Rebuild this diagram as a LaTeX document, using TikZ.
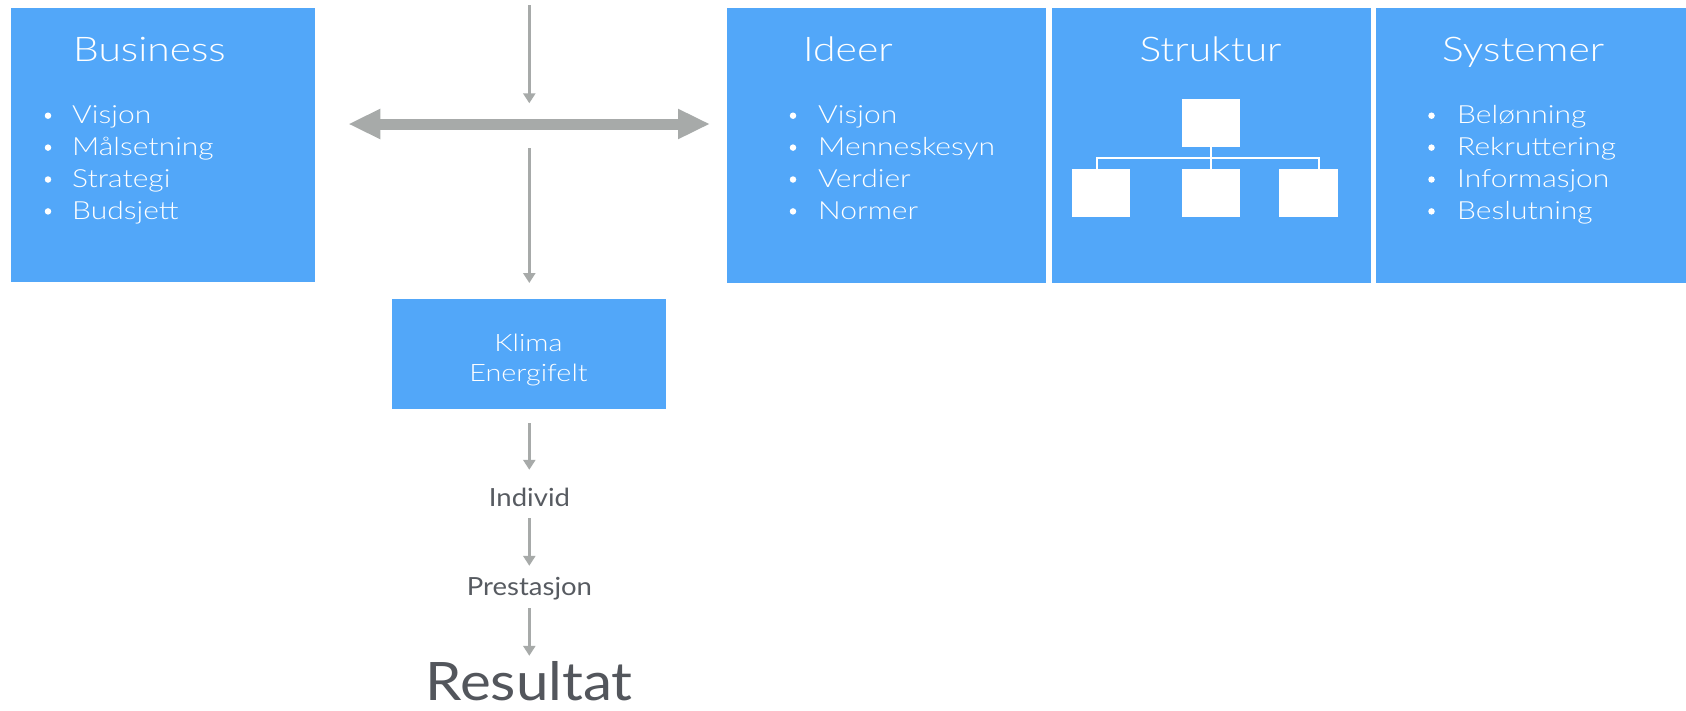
\documentclass[tikz,border=0pt]{standalone}
\usepackage{fontspec}
\setmainfont{Lato}
\newfontfamily\lightfont{Lato Light}[FakeStretch=1.2]
\newfontfamily\regfont{Lato}[FakeStretch=1.1]
\usetikzlibrary{arrows.meta}
\definecolor{boxblue}{HTML}{52A7F9}
\definecolor{arrowgray}{HTML}{A7AAA9}
\definecolor{textgray}{HTML}{575B61}
\tikzset{
  panel/.style={fill=boxblue, inner sep=0pt, anchor=north west},
  paneltitle/.style={text=white, inner sep=0pt, font=\lightfont\fontsize{34}{34}\selectfont},
  listitem/.style={text=white, inner sep=0pt, anchor=base west, font=\lightfont\fontsize{25}{25}\selectfont},
  bulletdot/.style={fill=white, circle, inner sep=0pt, minimum size=6.5pt},
  klimatext/.style={text=white, inner sep=0pt, anchor=base, font=\lightfont\fontsize{24}{24}\selectfont},
  orgbox/.style={fill=white, inner sep=0pt, anchor=north west, minimum width=58.5pt, minimum height=48pt},
  orgline/.style={draw=white, line width=1.8pt},
  flowtext/.style={text=textgray, inner sep=0pt, anchor=base, text height=20pt, text depth=6pt, font=\regfont\fontsize{25}{25}\selectfont},
  thinarrow/.style={draw=arrowgray, line width=3pt, -{Triangle[length=10pt,width=12pt]}},
  bigarrow/.style={draw=arrowgray, line width=11pt, {Triangle[length=32pt,width=28pt]}-{Triangle[length=32pt,width=28pt]}}
}
\begin{document}
\begin{tikzpicture}[x=1pt,y=-1pt]
\useasboundingbox[fill=white] (0,0) rectangle (1686,710);

% four panels
\node[panel, minimum width=304.5pt, minimum height=274.5pt] (business) at (10.75,7.5) {};
\node[panel, minimum width=319pt, minimum height=275.5pt] (ideer) at (727,7.5) {};
\node[panel, minimum width=319pt, minimum height=275.5pt] (struktur) at (1052,7.5) {};
\node[panel, minimum width=310pt, minimum height=275.5pt] (systemer) at (1376,7.5) {};

% panel titles
\node[paneltitle, anchor=base west] (businesstitle) at (73,61.5) {Business};
\node[paneltitle, anchor=base west] (ideertitle) at (803,61.5) {Ideer};
\node[paneltitle, anchor=base] (strukturtitle) at (1210.5,61.5) {Struktur};
\node[paneltitle, anchor=base west] (systemertitle) at (1442,61.5) {Systemer};

% bullet lists
\foreach \t [count=\i] in {Visjon,Målsetning,Strategi,Budsjett}{
  \node[listitem] (bus\i) at (72,{123.7+31.9*(\i-1)}) {\t};
  \node[bulletdot] (busdot\i) at (48,{115.7+31.9*(\i-1)}) {};
}
\foreach \t [count=\i] in {Visjon,Menneskesyn,Verdier,Normer}{
  \node[listitem] (ide\i) at (818,{123.7+31.9*(\i-1)}) {\t};
  \node[bulletdot] (idedot\i) at (793,{115.7+31.9*(\i-1)}) {};
}
\foreach \t [count=\i] in {Belønning,Rekruttering,Informasjon,Beslutning}{
  \node[listitem] (sys\i) at (1457,{123.7+31.9*(\i-1)}) {\t};
  \node[bulletdot] (sysdot\i) at (1431.5,{115.7+31.9*(\i-1)}) {};
}

% organisation chart
\node[orgbox] (orgtop) at (1181.7,99) {};
\node[orgbox] (orgleft) at (1071.7,168.7) {};
\node[orgbox] (orgmid) at (1181.7,168.7) {};
\node[orgbox] (orgright) at (1279,168.7) {};
\coordinate (orgbar) at (1210.7,158.3);
\draw[orgline] (orgtop.south) -- (orgmid.north);
\draw[orgline] ([xshift=-4.3pt]orgleft.north) |- (orgbar) -| ([xshift=10.4pt]orgright.north);

% climate box and flow
\node[panel, minimum width=274pt, minimum height=110pt] (klima) at (392,299) {};
\node[klimatext] (klima1) at (528.5,351.7) {Klima};
\node[klimatext] (klima2) at (528.5,381.7) {Energifelt};

\node[flowtext] (individ) at (529.5,506) {Individ};
\node[flowtext] (prestasjon) at (529.5,595) {Prestasjon};
\node[flowtext, text height=42pt, text depth=3pt, font=\regfont\fontsize{53}{53}\selectfont, text=textgray!95!black] (resultat) at (529,700) {Resultat};

% arrows
\coordinate (vtop) at (529.3,5);
\coordinate (vhub) at (529.3,103.3);
\coordinate (vlow) at (529.3,148.3);
\coordinate (hleft) at (348.3,124);
\coordinate (hright) at (710,124);
\draw[bigarrow] (hleft) -- (hright);
\draw[thinarrow] (vtop) -- (vhub);
\draw[thinarrow, shorten >=16pt] (vlow) -- (klima.north -| vlow);
\draw[thinarrow, shorten <=14pt, shorten >=16pt] (klima.south -| vlow) -- (individ.north -| vlow);
\draw[thinarrow, shorten <=6pt, shorten >=9pt] (individ.south -| vlow) -- (prestasjon.north -| vlow);
\draw[thinarrow, shorten <=7pt, shorten >=2pt] (prestasjon.south -| vlow) -- (resultat.north -| vlow);
\end{tikzpicture}
\end{document}
